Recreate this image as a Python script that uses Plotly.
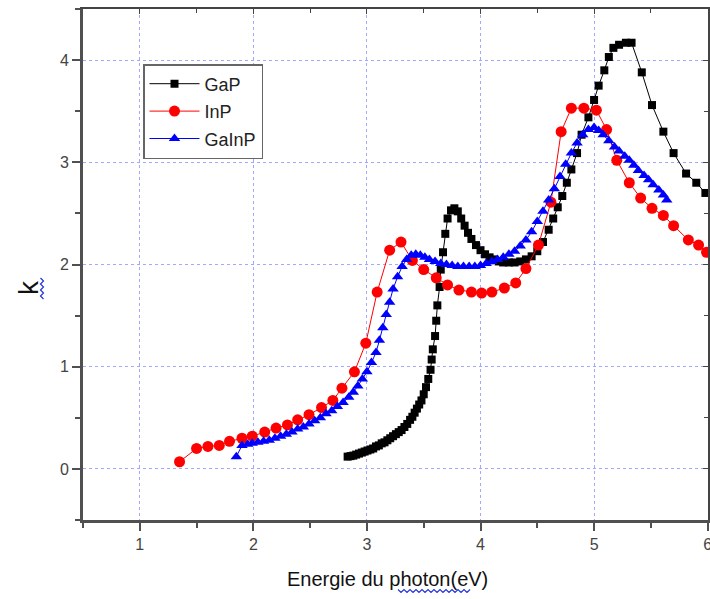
import plotly.graph_objects as go

gap_x = [2.83, 2.855, 2.88, 2.905, 2.93, 2.955, 2.98, 3.005, 3.03, 3.055, 3.08, 3.105, 3.13, 3.155,
         3.18, 3.205, 3.23, 3.255, 3.28, 3.305, 3.33, 3.355, 3.38, 3.40, 3.42, 3.44, 3.46, 3.48,
         3.50, 3.52, 3.54, 3.56, 3.57, 3.58, 3.60, 3.61, 3.62, 3.64, 3.65, 3.67,
         3.69, 3.71, 3.74, 3.77, 3.80, 3.83, 3.86, 3.89, 3.92, 3.96, 4.00, 4.04, 4.08, 4.12, 4.16,
         4.20, 4.25, 4.30, 4.35, 4.40, 4.45, 4.50, 4.55, 4.60, 4.64, 4.68, 4.72, 4.76, 4.80, 4.85,
         4.89, 4.95, 5.00, 5.04, 5.09, 5.13, 5.17, 5.22, 5.28, 5.33, 5.42, 5.51, 5.61, 5.70, 5.81,
         5.90, 5.98, 6.08]
gap_k = [0.12, 0.125, 0.13, 0.14, 0.15, 0.16, 0.17, 0.18, 0.19, 0.20, 0.22, 0.23, 0.25, 0.26,
         0.28, 0.30, 0.32, 0.34, 0.36, 0.38, 0.41, 0.44, 0.48, 0.51, 0.55, 0.59, 0.63, 0.67,
         0.73, 0.80, 0.88, 0.97, 1.07, 1.17, 1.30, 1.45, 1.60, 1.78, 1.95, 2.12,
         2.30, 2.45, 2.53, 2.55, 2.52, 2.45, 2.38, 2.31, 2.25, 2.19, 2.14, 2.10, 2.07, 2.05, 2.03,
         2.02, 2.02, 2.02, 2.03, 2.05, 2.08, 2.13, 2.22, 2.34, 2.45, 2.56, 2.67, 2.80, 2.93, 3.09,
         3.27, 3.44, 3.61, 3.75, 3.90, 4.03, 4.12, 4.15, 4.17, 4.17, 3.88, 3.56, 3.30, 3.09, 2.89,
         2.80, 2.70, 2.60]

inp_x = [1.35, 1.50, 1.60, 1.70, 1.79, 1.90, 1.99, 2.10, 2.20, 2.30, 2.39, 2.49, 2.60, 2.70, 2.78,
         2.89, 2.99, 3.09, 3.20, 3.30, 3.40, 3.50, 3.61, 3.71, 3.81, 3.92, 4.01, 4.10, 4.21, 4.31,
         4.40, 4.51, 4.62, 4.71, 4.80, 4.91, 5.02, 5.11, 5.20, 5.31, 5.41, 5.51, 5.61, 5.70, 5.83,
         5.92, 5.99]
inp_k = [0.07, 0.20, 0.22, 0.23, 0.27, 0.30, 0.32, 0.36, 0.40, 0.43, 0.48, 0.53, 0.60, 0.67, 0.79,
         0.95, 1.23, 1.73, 2.14, 2.22, 2.04, 1.95, 1.87, 1.80, 1.75, 1.73, 1.72, 1.73, 1.77, 1.82,
         1.96, 2.19, 2.61, 3.30, 3.53, 3.53, 3.51, 3.32, 3.02, 2.80, 2.65, 2.55, 2.48, 2.38, 2.24,
         2.19, 2.12]

gainp_x = [1.85, 1.90, 1.95, 1.99, 2.04, 2.09, 2.14, 2.19, 2.24, 2.29, 2.34, 2.39, 2.44, 2.49, 2.54,
           2.59, 2.64, 2.69, 2.74, 2.79, 2.84, 2.88, 2.92, 2.96, 3.00, 3.04, 3.08, 3.11, 3.14, 3.17,
           3.20, 3.23, 3.27, 3.31, 3.35, 3.39, 3.43, 3.47, 3.51, 3.55, 3.60, 3.65, 3.70, 3.75, 3.80,
           3.85, 3.90, 3.95, 4.00, 4.05, 4.10, 4.15, 4.20, 4.25, 4.30, 4.35, 4.40, 4.45, 4.50, 4.55,
           4.60, 4.65, 4.70, 4.75, 4.80, 4.85, 4.90, 4.95, 5.00, 5.04, 5.08, 5.13, 5.18, 5.22, 5.27,
           5.31, 5.35, 5.39, 5.44, 5.48, 5.52, 5.57, 5.61, 5.64]
gainp_k = [0.12, 0.23, 0.24, 0.25, 0.26, 0.27, 0.28, 0.30, 0.32, 0.34, 0.36, 0.39, 0.41, 0.44, 0.47,
           0.50, 0.54, 0.57, 0.61, 0.65, 0.70, 0.75, 0.81, 0.88, 0.95, 1.04, 1.14, 1.26, 1.38, 1.51,
           1.63, 1.76, 1.88, 1.98, 2.05, 2.09, 2.10, 2.09, 2.07, 2.05, 2.03, 2.01, 2.00, 1.99, 1.98,
           1.98, 1.98, 1.98, 1.99, 2.01, 2.03, 2.05, 2.07, 2.10, 2.13, 2.18, 2.24, 2.32, 2.42, 2.52,
           2.63, 2.74, 2.86, 2.98, 3.09, 3.19, 3.27, 3.32, 3.34, 3.31, 3.27, 3.21, 3.15, 3.11, 3.06,
           3.02, 2.97, 2.92, 2.87, 2.83, 2.78, 2.73, 2.68, 2.63]

x_ticks = [1, 2, 3, 4, 5, 6]
y_ticks = [0, 1, 2, 3, 4]

FONT = "Arial, Liberation Sans, sans-serif"

# plot area in pixels (for placing decorations)
L, R, T, B = 83, 708, 9, 520
PW, PH = R - L, B - T


def px(xp):
    return (xp - L) / PW


def py(yp):
    return (B - yp) / PH


fig = go.Figure()
fig.add_trace(go.Scatter(x=gap_x, y=gap_k, name="GaP", mode="lines+markers",
                         line=dict(color="black", width=1),
                         marker=dict(symbol="square", size=8, color="black"),
                         legendgroup="a"))
fig.add_trace(go.Scatter(x=inp_x, y=inp_k, name="InP", mode="lines+markers",
                         line=dict(color="red", width=1),
                         marker=dict(symbol="circle", size=11, color="red"),
                         legendgroup="b"))
fig.add_trace(go.Scatter(x=gainp_x, y=gainp_k, name="GaInP", mode="lines+markers",
                         line=dict(color="blue", width=1),
                         marker=dict(symbol="triangle-up", size=10, color="blue"),
                         legendgroup="c"))

grid_col = "rgba(70,80,255,0.5)"
axis_col = "#505050"

fig.update_layout(
    width=710, height=599,
    margin=dict(l=L, r=710 - R, t=T, b=599 - B, autoexpand=False),
    paper_bgcolor="white", plot_bgcolor="white",
    font=dict(family=FONT, color="#333"),
    showlegend=True,
    legend=dict(x=px(143), y=py(64), xanchor="left", yanchor="top",
                bgcolor="white", bordercolor="#666", borderwidth=1.5,
                font=dict(size=18, color="#222", family=FONT),
                tracegroupgap=1, traceorder="grouped",
                itemwidth=50),
    xaxis=dict(range=[0.5, 6.003], tickvals=x_ticks, showgrid=True, gridcolor=grid_col,
               griddash="dot", gridwidth=1, zeroline=False, automargin=False,
               showline=True, linecolor=axis_col, linewidth=3,
               ticks="outside", ticklen=8, tickwidth=1.5, tickcolor=axis_col,
               ticklabeloverflow="allow",
               minor=dict(dtick=0.5, ticks="outside", ticklen=5, tickwidth=1.5, tickcolor=axis_col,
                          showgrid=False),
               tickfont=dict(size=16, color="#444")),
    yaxis=dict(range=[-0.5, 4.5], tickvals=y_ticks, showgrid=True, gridcolor=grid_col,
               griddash="dot", gridwidth=1, zeroline=False, automargin=False,
               showline=True, linecolor=axis_col, linewidth=3,
               ticks="outside", ticklen=8, tickwidth=1.5, tickcolor=axis_col,
               minor=dict(dtick=0.5, ticks="outside", ticklen=5, tickwidth=1.5, tickcolor=axis_col,
                          showgrid=False),
               tickfont=dict(size=16, color="#444")),
    xaxis2=dict(range=[0.5, 6.003], overlaying="x", side="top", showgrid=False, zeroline=False,
                showline=True, linecolor="#444", linewidth=1.5, tickvals=x_ticks,
                automargin=False,
                showticklabels=False, ticks="inside", ticklen=5, tickcolor="#444",
                minor=dict(dtick=0.5, ticks="inside", ticklen=4, tickcolor="#444")),
    yaxis2=dict(range=[-0.5, 4.5], overlaying="y", side="right", showgrid=False, zeroline=False,
                showline=True, linecolor="#444", linewidth=1.5, tickvals=y_ticks,
                automargin=False,
                showticklabels=False, ticks="inside", ticklen=5, tickcolor="#444",
                minor=dict(dtick=0.5, ticks="inside", ticklen=4, tickcolor="#444")),
)
# invisible trace to activate secondary axes
fig.add_trace(go.Scatter(x=[None], y=[None], xaxis="x2", yaxis="y2", showlegend=False,
                         hoverinfo="skip"))

fig.add_annotation(text="k", xref="paper", yref="paper",
                   x=px(28), y=py(288), showarrow=False,
                   textangle=-90, font=dict(size=28, color="#111", family=FONT),
                   xanchor="center", yanchor="middle")
fig.add_annotation(text="Energie du photon(eV)", xref="paper", yref="paper",
                   x=px(387), y=py(579), showarrow=False,
                   font=dict(size=20, color="#111", family=FONT),
                   xanchor="center", yanchor="middle")


# spell-check style wavy underlines (decoration)
def wavy_h(x0, x1, yc, amp=1.5, step=3):
    pts = []
    xx = x0
    i = 0
    while xx <= x1:
        pts.append((xx, yc + (amp if i % 2 else -amp)))
        xx += step
        i += 1
    return "M " + " L ".join(f"{px(a):.5f},{py(b):.5f}" for a, b in pts)


def wavy_v(y0, y1, xc, amp=1.5, step=3):
    pts = []
    yy = y0
    i = 0
    while yy <= y1:
        pts.append((xc + (amp if i % 2 else -amp), yy))
        yy += step
        i += 1
    return "M " + " L ".join(f"{px(a):.5f},{py(b):.5f}" for a, b in pts)


fig.add_shape(type="path", xref="paper", yref="paper", path=wavy_h(398, 472, 591),
              line=dict(color="#2233dd", width=1.2))
fig.add_shape(type="path", xref="paper", yref="paper", path=wavy_v(278, 300, 42),
              line=dict(color="#2233dd", width=1.2))

fig.write_html("out.html")
